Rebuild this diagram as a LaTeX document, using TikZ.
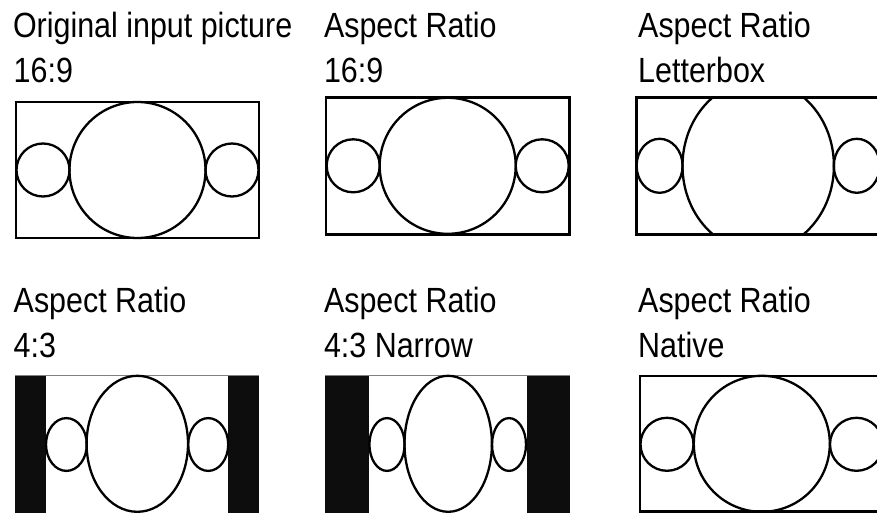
\documentclass[tikz,border=0pt]{standalone}
\usepackage{fontspec}
\setmainfont[FakeStretch=0.87]{Liberation Sans}
\begin{document}
\begin{tikzpicture}[x=1pt,y=-1pt,
  lbl/.style={font=\fontsize{35}{40}\selectfont, inner sep=0pt, anchor=base west},
  frame/.style={line width=2.5pt},
  shp/.style={line width=2.3pt},
  bar/.style={fill=black!95}]
\useasboundingbox (0,0) rectangle (877,513);
\clip (0,0) rectangle (877,513);

% labels
\node[lbl] (l1a) at (12.8,37.7) {Original input picture};
\node[lbl] (l1b) at (13.5,82.7) {16:9};
\node[lbl] (l2a) at (323.8,37.7) {Aspect Ratio};
\node[lbl] (l2b) at (323.8,82.7) {16:9};
\node[lbl] (l3a) at (638,37.7) {Aspect Ratio};
\node[lbl] (l3b) at (638,82.7) {Letterbox};
\node[lbl] (l4a) at (13.5,312.7) {Aspect Ratio};
\node[lbl] (l4b) at (13.5,357.7) {4:3};
\node[lbl] (l5a) at (323.8,312.7) {Aspect Ratio};
\node[lbl] (l5b) at (323.8,357.7) {4:3 Narrow};
\node[lbl] (l6a) at (638,312.7) {Aspect Ratio};
\node[lbl] (l6b) at (638,357.7) {Native};

% panel 1: original 16:9
\draw[shp] (137.5,170) circle [radius=68];
\draw[shp] (43,170) circle [radius=26.5];
\draw[shp] (232,170) circle [radius=26.5];
\draw[frame] (16,102) rectangle (259,238);

% panel 2: 16:9
\draw[shp] (447.7,165.8) circle [radius=68];
\draw[shp] (353.2,165.8) circle [radius=26.5];
\draw[shp] (542.2,165.8) circle [radius=26.5];
\draw[frame] (326,97.3) rectangle (569.3,234.3);

% panel 3: letterbox
\begin{scope}
  \clip (636.7,97.3) rectangle (879.7,234.3);
  \draw[shp] (758.2,165.8) ellipse [x radius=75.7, y radius=85.5];
\end{scope}
\draw[shp] (659.6,165.8) ellipse [x radius=23, y radius=27];
\draw[shp] (856.8,165.8) ellipse [x radius=23, y radius=27];
\draw[frame] (636.7,97.3) rectangle (879.7,234.3);

% panel 4: 4:3
\fill[bar] (15.3,375.3) rectangle (45.7,514);
\fill[bar] (228,375.3) rectangle (259.3,514);
\draw[gray, line width=0.8pt] (15.3,375.3) -- (259.3,375.3);
\draw[shp] (137.3,443.8) ellipse [x radius=50.7, y radius=68];
\draw[shp] (66.4,444.5) ellipse [x radius=20.4, y radius=26.4];
\draw[shp] (208.2,444.5) ellipse [x radius=20, y radius=26.4];

% panel 5: 4:3 narrow
\fill[bar] (325.3,375.3) rectangle (369.3,514);
\fill[bar] (526.7,375.3) rectangle (570,514);
\draw[gray, line width=0.8pt] (325.3,375.3) -- (570,375.3);
\draw[shp] (448.2,443.8) ellipse [x radius=43.7, y radius=68];
\draw[shp] (387,444.5) ellipse [x radius=17.6, y radius=26.4];
\draw[shp] (509,444.5) ellipse [x radius=17, y radius=26.4];

% panel 6: native
\draw[shp] (761.8,443.8) circle [radius=68];
\draw[shp] (667,444.3) circle [radius=26.5];
\draw[shp] (856.5,444.3) circle [radius=26.5];
\draw[frame] (640,376) rectangle (883,511.6);
\end{tikzpicture}
\end{document}
